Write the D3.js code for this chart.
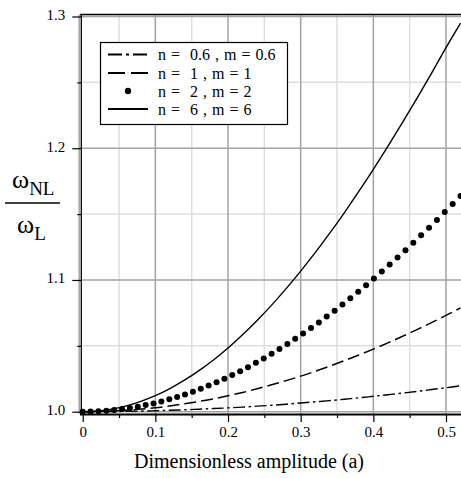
<!DOCTYPE html>
<html>
<head>
<meta charset="utf-8">
<script src="https://cdn.jsdelivr.net/npm/d3@7"></script>
<style>
  html, body { margin: 0; padding: 0; background: #fff; }
  svg { display: block; }
  svg text { font-family: "Liberation Serif", "Times New Roman", Times, "DejaVu Serif", serif; }
</style>
</head>
<body>
<svg id="chart" width="461" height="478"></svg>
<script>
// ---- data ----
const xMajorTicks = [0, 0.1, 0.2, 0.3, 0.4, 0.5];
const xMinorTicks = [0.05, 0.15, 0.25, 0.35, 0.45];
const yMajorTicks = [1.0, 1.1, 1.2, 1.3];
const yMinorTicks = [1.05, 1.15, 1.25];

const lineA = [0, 0.02, 0.04, 0.06, 0.08, 0.10, 0.12, 0.14, 0.16, 0.18, 0.20, 0.22, 0.24,
  0.26, 0.28, 0.30, 0.32, 0.34, 0.36, 0.38, 0.40, 0.42, 0.44, 0.46, 0.48, 0.50, 0.52];

const seriesN06 = [1.0000, 1.0000, 1.0001, 1.0003, 1.0005, 1.0007, 1.0011, 1.0014, 1.0019, 1.0024,
  1.0029, 1.0035, 1.0042, 1.0049, 1.0057, 1.0066, 1.0075, 1.0084, 1.0095, 1.0105, 1.0117,
  1.0129, 1.0141, 1.0154, 1.0168, 1.0182, 1.0196];

const seriesN1 = [1.0000, 1.0001, 1.0005, 1.0011, 1.0020, 1.0030, 1.0044, 1.0060, 1.0078, 1.0098,
  1.0121, 1.0146, 1.0174, 1.0204, 1.0236, 1.0270, 1.0307, 1.0346, 1.0387, 1.0430, 1.0475,
  1.0522, 1.0572, 1.0623, 1.0676, 1.0731, 1.0788];

const seriesN6 = [1.0000, 1.0005, 1.0020, 1.0044, 1.0079, 1.0122, 1.0176, 1.0239, 1.0312, 1.0393,
  1.0484, 1.0584, 1.0692, 1.0809, 1.0934, 1.1067, 1.1207, 1.1355, 1.1510, 1.1672, 1.1840,
  1.2014, 1.2194, 1.2379, 1.2569, 1.2763, 1.2950];

const dotA = [0, 0.0108, 0.0217, 0.0325, 0.0433, 0.0542, 0.0650, 0.0758, 0.0867, 0.0975,
  0.1083, 0.1192, 0.1300, 0.1408, 0.1517, 0.1625, 0.1733, 0.1842, 0.1950, 0.2058,
  0.2167, 0.2275, 0.2383, 0.2492, 0.2600, 0.2708, 0.2817, 0.2925, 0.3033, 0.3142,
  0.3250, 0.3358, 0.3467, 0.3575, 0.3683, 0.3792, 0.3900, 0.4008, 0.4117, 0.4225,
  0.4333, 0.4442, 0.4550, 0.4658, 0.4767, 0.4875, 0.4983, 0.5092, 0.5200];
const seriesN2 = [1.0000, 1.0001, 1.0003, 1.0007, 1.0012, 1.0020, 1.0028, 1.0038, 1.0050, 1.0063,
  1.0078, 1.0094, 1.0112, 1.0131, 1.0152, 1.0174, 1.0198, 1.0223, 1.0250, 1.0278,
  1.0307, 1.0338, 1.0371, 1.0404, 1.0439, 1.0476, 1.0514, 1.0553, 1.0593, 1.0635,
  1.0678, 1.0722, 1.0767, 1.0814, 1.0861, 1.0911, 1.0960, 1.1011, 1.1064, 1.1117,
  1.1171, 1.1226, 1.1282, 1.1339, 1.1397, 1.1456, 1.1515, 1.1576, 1.1637];

const legendLabels = ["n =  0.6 , m = 0.6", "n =  1 , m = 1", "n =  2 , m = 2", "n =  6 , m = 6"];

// ---- layout ----
const svg = d3.select("#chart");
const FONT = '"Liberation Serif", "Times New Roman", Times, serif';
const plot = { left: 80, top: 14.5, right: 461, bottom: 414 };

const x = d3.scaleLinear().domain([0, 0.5]).range([82.7, 446]);
const y = d3.scaleLinear().domain([1.0, 1.3]).range([411.7, 16.5]);

svg.append("defs").append("clipPath").attr("id", "clip")
  .append("rect").attr("x", plot.left).attr("y", plot.top)
  .attr("width", plot.right - plot.left).attr("height", plot.bottom - plot.top);

// grid
const grid = svg.append("g");
grid.selectAll(".vmin").data(xMinorTicks).join("line")
  .attr("x1", d => x(d)).attr("x2", d => x(d)).attr("y1", plot.top).attr("y2", plot.bottom)
  .attr("stroke", "#dedede").attr("stroke-width", 1.5);
grid.selectAll(".hmin").data(yMinorTicks).join("line")
  .attr("x1", plot.left).attr("x2", plot.right).attr("y1", d => y(d)).attr("y2", d => y(d))
  .attr("stroke", "#dedede").attr("stroke-width", 1.5);
grid.selectAll(".vmaj").data(xMajorTicks.slice(1)).join("line")
  .attr("x1", d => x(d)).attr("x2", d => x(d)).attr("y1", plot.top).attr("y2", plot.bottom)
  .attr("stroke", "#a3a3a3").attr("stroke-width", 1.5);
grid.selectAll(".hmaj").data(yMajorTicks).join("line")
  .attr("x1", plot.left).attr("x2", plot.right).attr("y1", d => y(d)).attr("y2", d => y(d))
  .attr("stroke", "#a3a3a3").attr("stroke-width", 1.5);
grid.append("line").attr("x1", 79.2).attr("x2", 79.2).attr("y1", plot.top).attr("y2", plot.bottom)
  .attr("stroke", "#a3a3a3").attr("stroke-width", 1.5);

// axes
const xAxis = svg.append("g").attr("transform", `translate(0,${plot.bottom})`)
  .call(d3.axisBottom(x).tickValues(xMajorTicks).tickSize(8).tickPadding(4)
    .tickFormat(d => d === 0 ? "0" : d3.format(".1f")(d)));
svg.append("g").attr("transform", `translate(0,${plot.bottom})`)
  .call(d3.axisBottom(x).tickValues(xMinorTicks).tickSize(4).tickFormat(""))
  .call(g => g.select(".domain").remove());
const yAxis = svg.append("g").attr("transform", `translate(${plot.left + 1.3},0)`)
  .call(d3.axisLeft(y).tickValues(yMajorTicks).tickSize(9).tickPadding(7)
    .tickFormat(d3.format(".1f")));
svg.append("g").attr("transform", `translate(${plot.left + 1.3},0)`)
  .call(d3.axisLeft(y).tickValues(yMinorTicks).tickSize(4).tickFormat(""))
  .call(g => g.select(".domain").remove());

[xAxis, yAxis].forEach(g => {
  g.attr("font-family", null).attr("font-size", null);
  g.selectAll("text").style("font-family", FONT).style("font-size", "15px").attr("fill", "#000");
});
svg.selectAll(".tick line").attr("stroke", "#000").attr("stroke-width", 1.2);
xAxis.select(".domain").attr("d", `M${plot.left},0.5H${plot.right}`).attr("stroke", "#000").attr("stroke-width", 1.8);
yAxis.select(".domain").attr("d", `M0,${plot.top}V${plot.bottom}`).attr("stroke", "#000").attr("stroke-width", 1.3);
yAxis.selectAll("text").attr("dy", "0.2em");

svg.append("line").attr("x1", plot.left).attr("x2", plot.right).attr("y1", plot.top).attr("y2", plot.top)
  .attr("stroke", "#000").attr("stroke-width", 1.3);

// curves
const curves = svg.append("g").attr("clip-path", "url(#clip)");
const line = d3.line().x(d => x(d[0])).y(d => y(d[1])).curve(d3.curveCatmullRom);
const zip = (xs, ys) => xs.map((v, i) => [v, ys[i]]);

curves.append("path").datum(zip(lineA, seriesN06)).attr("d", line)
  .attr("fill", "none").attr("stroke", "#000").attr("stroke-width", 1.4)
  .attr("stroke-dasharray", "12,3.5,2.5,3.5");
curves.append("path").datum(zip(lineA, seriesN1)).attr("d", line)
  .attr("fill", "none").attr("stroke", "#000").attr("stroke-width", 1.5)
  .attr("stroke-dasharray", "12,5");
curves.append("path").datum(zip(lineA, seriesN6)).attr("d", line)
  .attr("fill", "none").attr("stroke", "#000").attr("stroke-width", 1.4);
curves.selectAll(".dot").data(zip(dotA, seriesN2)).join("circle")
  .attr("cx", d => x(d[0])).attr("cy", d => y(d[1])).attr("r", 3).attr("fill", "#000");

// legend
const lg = svg.append("g");
lg.append("rect").attr("x", 100.5).attr("y", 42.5).attr("width", 187).attr("height", 82)
  .attr("fill", "#fff").attr("stroke", "#000").attr("stroke-width", 1.2);
const rowY = [54.5, 73, 91, 109];
const sx0 = 108, sx1 = 148;
lg.append("line").attr("x1", sx0).attr("x2", sx1).attr("y1", rowY[0]).attr("y2", rowY[0])
  .attr("stroke", "#000").attr("stroke-width", 1.8).attr("stroke-dasharray", "14,4,3,4");
lg.append("line").attr("x1", sx0).attr("x2", sx1).attr("y1", rowY[1]).attr("y2", rowY[1])
  .attr("stroke", "#000").attr("stroke-width", 1.8).attr("stroke-dasharray", "17,6");
lg.append("circle").attr("cx", 128).attr("cy", rowY[2]).attr("r", 3.2).attr("fill", "#000");
lg.append("line").attr("x1", sx0).attr("x2", sx1).attr("y1", rowY[3]).attr("y2", rowY[3])
  .attr("stroke", "#000").attr("stroke-width", 1.8);
lg.selectAll(".lt").data(legendLabels).join("text")
  .attr("x", 158).attr("y", (d, i) => rowY[i] + 5.5)
  .style("font-size", "16px").style("word-spacing", "1px").style("white-space", "pre")
  .attr("fill", "#000")
  .text(d => d);

// x-axis title
svg.append("text").attr("x", 249).attr("y", 468).attr("text-anchor", "middle")
  .style("font-size", "20px").attr("fill", "#000").text("Dimensionless amplitude (a)");

// y-axis label: fraction omega_NL / omega_L
const yl = svg.append("g");
const t1 = yl.append("text").attr("x", 12).attr("y", 188).style("font-size", "26px").attr("fill", "#000");
t1.append("tspan").text("ω");
t1.append("tspan").style("font-size", "19px").attr("dy", 7).text("NL");
yl.append("line").attr("x1", 5).attr("x2", 60).attr("y1", 203).attr("y2", 203)
  .attr("stroke", "#000").attr("stroke-width", 1.3);
const t2 = yl.append("text").attr("x", 17).attr("y", 233).style("font-size", "26px").attr("fill", "#000");
t2.append("tspan").text("ω");
t2.append("tspan").style("font-size", "19px").attr("dy", 7).text("L");
</script>
</body>
</html>
